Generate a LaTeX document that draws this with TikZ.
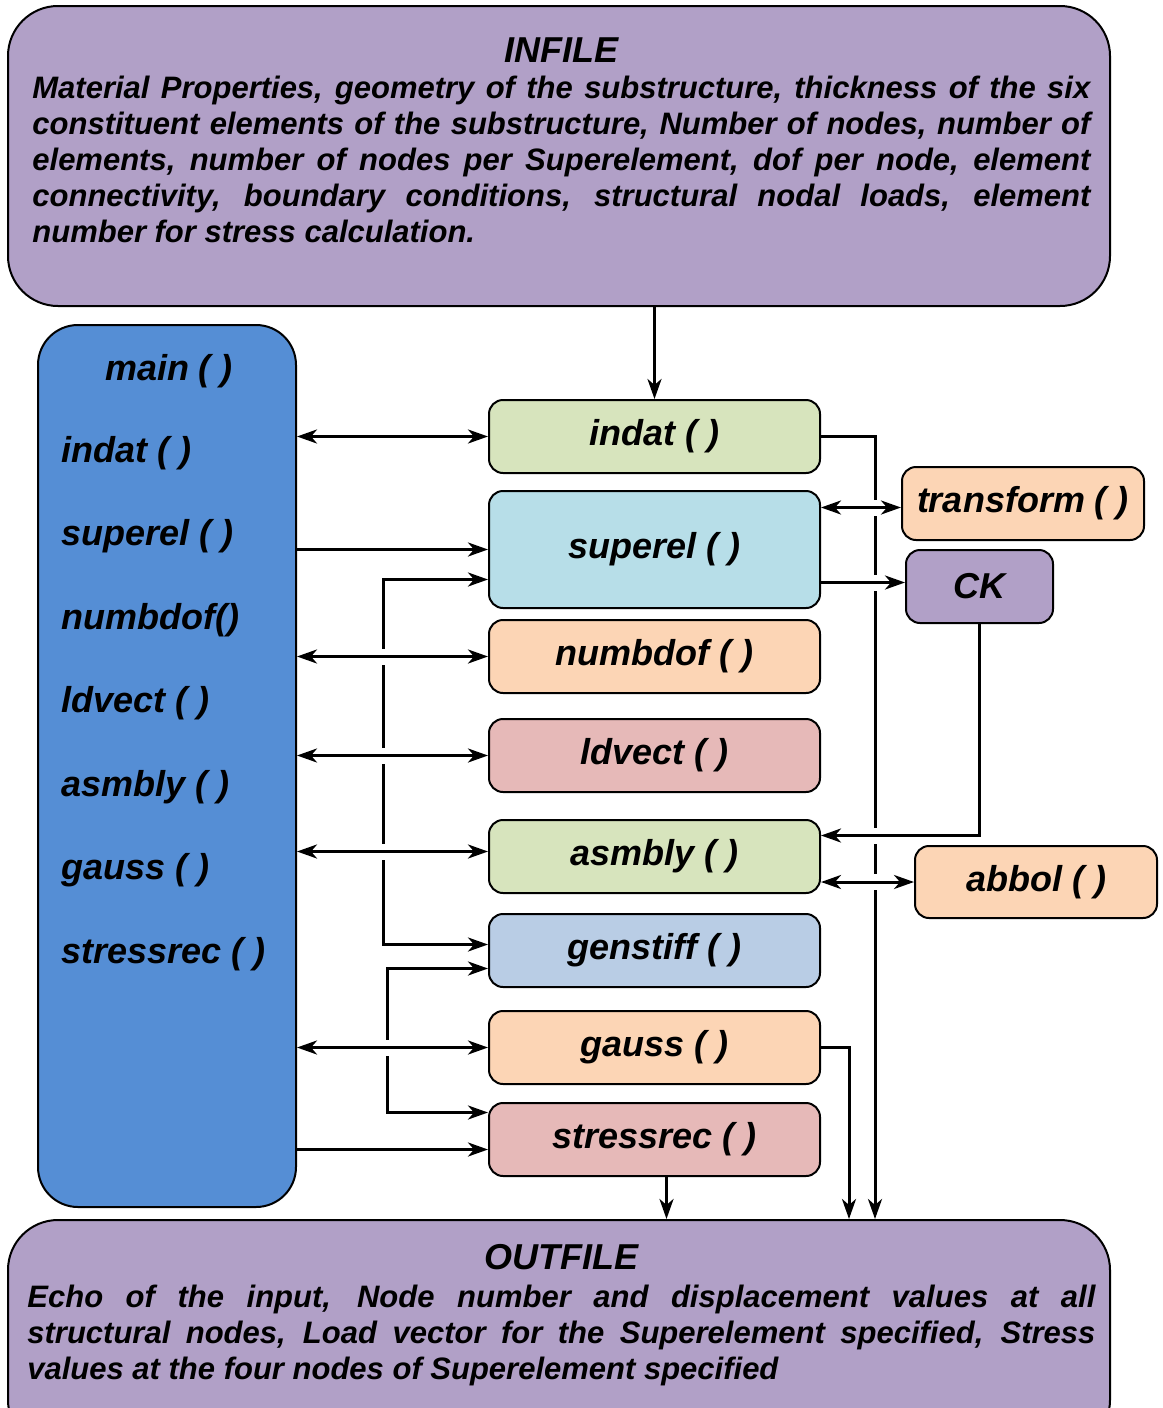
\documentclass[tikz,border=0pt]{standalone}
\usepackage{fontspec}
\setmainfont{Liberation Sans}
\usetikzlibrary{arrows.meta,positioning}
\definecolor{lilac}{HTML}{B1A0C7}
\definecolor{mainblue}{HTML}{558ED5}
\definecolor{sage}{HTML}{D7E4BD}
\definecolor{skyblue}{HTML}{B7DEE8}
\definecolor{peach}{HTML}{FCD5B5}
\definecolor{rose}{HTML}{E6B9B8}
\definecolor{steel}{HTML}{B9CDE5}
\newcommand{\fnfont}{\bfseries\itshape\fontsize{18}{21}\selectfont}
\newcommand{\txtfont}{\bfseries\itshape\fontsize{15.5}{18}\selectfont}
\tikzset{
  fnbox/.style = {draw=black, line width=1pt, rounded corners=7pt, inner sep=0pt,
    minimum width=165.5pt, minimum height=36.5pt, font=\fnfont},% function box
  bigbox/.style = {draw=black, line width=1pt, fill=lilac, inner sep=0pt,
    rounded corners=25pt},% in/out file
  mlabel/.style = {anchor=base west, inner sep=0pt, font=\fnfont},% label in main
  ftext/.style = {anchor=north west, inner sep=0pt, align=justify, font=\txtfont},
  link/.style = {line width=1.5pt},
  hop/.style = {preaction={draw=white, line width=8pt, -, shorten <=4pt, shorten >=4pt}}
}
\begin{document}
\begin{tikzpicture}[x=0.5pt,y=-0.5pt,>={Stealth[length=10pt,width=7pt,inset=3pt]}]
        \useasboundingbox (0,0) rectangle (1162,1408);
        % files
        \node [bigbox, minimum width=551pt, minimum height=150pt] (infile) at (559,156) {};
        \node [anchor=base, inner sep=0pt, font=\fnfont] (intitle) at (561,62) {INFILE};
        \node [ftext, text width=529pt] (intext) at (32,76) {Material Properties, geometry of the substructure, thickness of the six\linebreak
          constituent elements of the substructure, Number of nodes, number of\linebreak
          elements, number of nodes per Superelement, dof per node, element\linebreak
          connectivity, boundary conditions, structural nodal loads, element\linebreak
          number for stress calculation.};
        \node [bigbox, anchor=north, minimum width=551pt, minimum height=115pt] (outfile) at (559,1219) {};
        \node [anchor=base, inner sep=0pt, font=\fnfont] (outtitle) at (561,1269) {OUTFILE};
        \node [ftext, text width=534pt] (outtext) at (27,1285) {Echo of the input, Node number and displacement values at all\linebreak
          structural nodes, Load vector for the Superelement specified, Stress\linebreak
          values at the four nodes of Superelement specified};
        % main
        \node [draw=black, line width=1pt, fill=mainblue, rounded corners=20pt,
          minimum width=129pt, minimum height=441pt] (mainbox) at (167,766) {};
        \node [anchor=base, inner sep=0pt, font=\fnfont] (lmain) at (169,380) {main ( )};
        \node [mlabel] (lindat) at (61,462) {indat ( )};
        \node [mlabel] (lsuperel) at (61,545) {superel ( )};
        \node [mlabel] (lnumbdof) at (61,629) {numbdof()};
        \node [mlabel] (lldvect) at (61,712) {ldvect ( )};
        \node [mlabel] (lasmbly) at (61,796) {asmbly ( )};
        \node [mlabel] (lgauss) at (61,879) {gauss ( )};
        \node [mlabel] (lstressrec) at (61,963) {stressrec ( )};
        % functions
        \node [fnbox, fill=sage] (indat) at (654.5,436.5) {indat ( )};
        \node [fnbox, fill=skyblue, minimum height=58.5pt, below=8pt of indat] (superel) {superel ( )};
        \node [fnbox, fill=peach, below=5pt of superel] (numbdof) {numbdof ( )};
        \node [fnbox, fill=rose, below=12pt of numbdof] (ldvect) {ldvect ( )};
        \node [fnbox, fill=sage, below=13pt of ldvect] (asmbly) {asmbly ( )};
        \node [fnbox, fill=steel, below=9.5pt of asmbly] (genstiff) {genstiff ( )};
        \node [fnbox, fill=peach, below=11pt of genstiff] (gauss) {gauss ( )};
        \node [fnbox, fill=rose, below=8.5pt of gauss] (stressrec) {stressrec ( )};
        \node [fnbox, fill=peach, minimum width=121pt] (transform) at (1023,503.5) {transform ( )};
        \node [fnbox, fill=lilac, minimum width=73.5pt] (CK) at (979.5,586.5) {CK};
        \node [fnbox, fill=peach, minimum width=121pt, minimum height=36pt] (abbol) at (1036,882) {abbol ( )};
        % links
        \draw [link,->] (infile.south -| indat.north) -- (indat.north);
        \draw [link,<->] (indat.west -| mainbox.east) -- (indat.west);
        \draw [link,->] (superel.west -| mainbox.east) -- (superel.west);
        \draw [link,<->] ([yshift=-15pt]superel.west) -- ++(-105,0) |- ([yshift=3pt]genstiff.west);
        \draw [link,<->] ([yshift=-9pt]genstiff.west) -- ++(-101,0) |- ([yshift=13.5pt]stressrec.west);
        \draw [link,->] (indat.east) -| ([xshift=158pt]outfile.north);
        \draw [link,->] (gauss.east) -| ([xshift=145pt]outfile.north);
        \draw [link,->] ([xshift=6pt]stressrec.south) -- ([xshift=6pt]stressrec.south |- outfile.north);
        \draw [link,->] ([yshift=-5pt]stressrec.west -| mainbox.east) -- ([yshift=-5pt]stressrec.west);
        % links crossing the lines above
        \draw [link,hop,<->] (numbdof.west -| mainbox.east) -- (numbdof.west);
        \draw [link,hop,<->] (ldvect.west -| mainbox.east) -- (ldvect.west);
        \draw [link,hop,<->] ([yshift=2.5pt]asmbly.west -| mainbox.east) -- ([yshift=2.5pt]asmbly.west);
        \draw [link,hop,<->] (gauss.west -| mainbox.east) -- (gauss.west);
        \draw [link,hop,<->] ([yshift=-2pt]transform.west -| superel.east) -- ([yshift=-2pt]transform.west);
        \draw [link,hop,->] ([yshift=2pt]CK.west -| superel.east) -- ([yshift=2pt]CK.west);
        \draw [link,hop,->] (CK.south) |- ([yshift=10.5pt]asmbly.east);
        \draw [link,hop,<->] (abbol.west -| asmbly.east) -- (abbol.west);
\end{tikzpicture}
\end{document}
